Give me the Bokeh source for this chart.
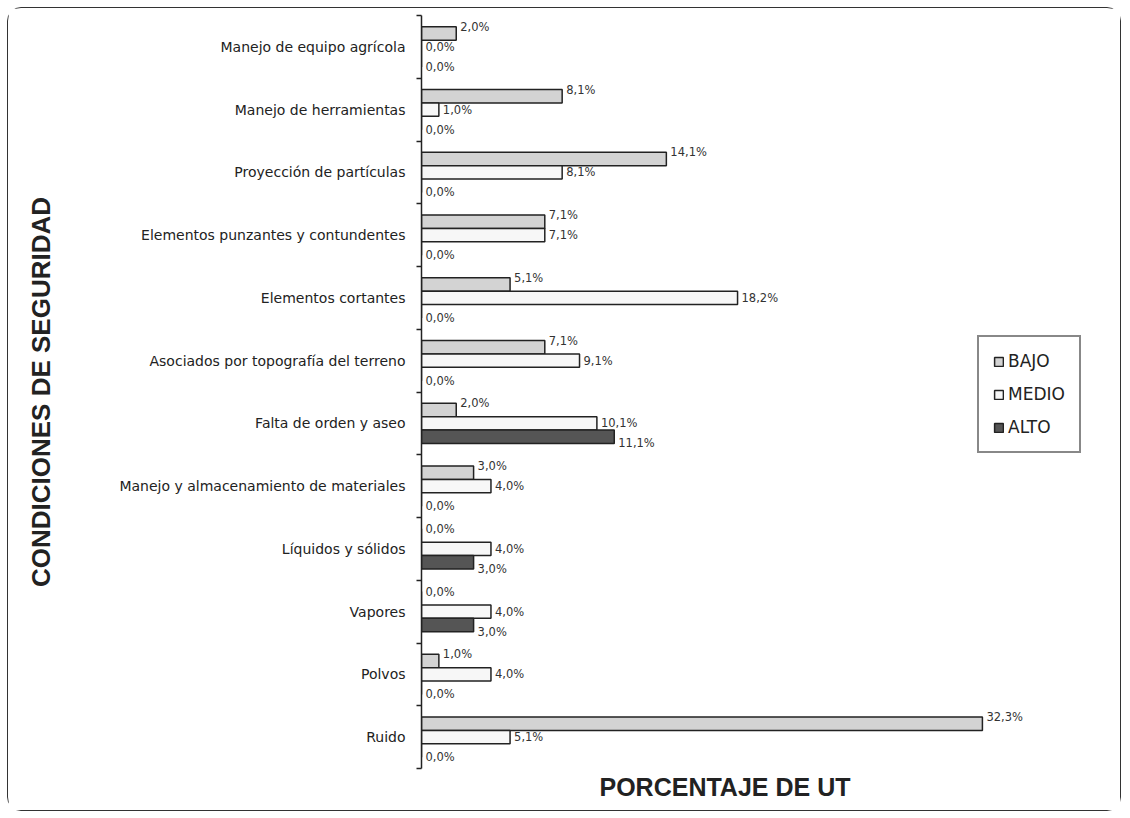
from bokeh.plotting import figure
from bokeh.models import ColumnDataSource, Range1d, FixedTicker, Legend, LegendItem, Title
from bokeh.embed import file_html
from bokeh.resources import INLINE

categories = [
    "Manejo de equipo agrícola",
    "Manejo de herramientas",
    "Proyección de partículas",
    "Elementos punzantes y contundentes",
    "Elementos cortantes",
    "Asociados por topografía del terreno",
    "Falta de orden y aseo",
    "Manejo y almacenamiento de materiales",
    "Líquidos y sólidos",
    "Vapores",
    "Polvos",
    "Ruido",
]
bajo = [2.0, 8.1, 14.1, 7.1, 5.1, 7.1, 2.0, 3.0, 0.0, 0.0, 1.0, 32.3]
medio = [0.0, 1.0, 8.1, 7.1, 18.2, 9.1, 10.1, 4.0, 4.0, 4.0, 4.0, 5.1]
alto = [0.0, 0.0, 0.0, 0.0, 0.0, 0.0, 11.1, 0.0, 3.0, 3.0, 0.0, 0.0]
series_names = ["BAJO", "MEDIO", "ALTO"]
series_values = [bajo, medio, alto]
series_colors = ["#d3d3d3", "#f7f7f7", "#555555"]

n = len(categories)
BAR_H = 0.215
LABEL_OFF = [-0.32, 0.0, 0.32]

p = figure(
    width=1114, height=804,
    x_range=Range1d(0, 39.1), y_range=Range1d(n, 0),
    x_axis_location=None,
    output_backend="svg", toolbar_location=None,
    min_border_left=413, min_border_right=22, min_border_top=7, min_border_bottom=44,
)
p.styles = {"border": "1.5px solid #333333", "border-radius": "14px",
            "margin-left": "7px", "margin-top": "7px"}
p.outline_line_color = None
p.xgrid.visible = False
p.ygrid.visible = False

legend_items = []
for k, (name, vals, col) in enumerate(zip(series_names, series_values, series_colors)):
    off = (k - 1) * BAR_H
    ys = [i + 0.5 + off for i in range(n)]
    src = ColumnDataSource(dict(y=ys, right=vals))
    r = p.hbar(y="y", left=0, right="right", height=BAR_H, source=src,
               fill_color=col, line_color="#222222", line_width=1.5)
    legend_items.append(LegendItem(label=name, renderers=[r]))
    ly = [i + 0.5 + LABEL_OFF[k] for i in range(n)]
    txt = [f"{v:.1f}%".replace(".", ",") for v in vals]
    lsrc = ColumnDataSource(dict(x=vals, y=ly, t=txt))
    p.text(x="x", y="y", text="t", source=lsrc, x_offset=4,
           text_font_size="11.5px", text_color="#333333",
           text_baseline="middle", text_align="left",
           text_font={"value": "DejaVu Sans"})

# y axis: labels at category centres, ticks at boundaries
centers = [i + 0.5 for i in range(n)]
bounds = [float(i) for i in range(n + 1)]
p.yaxis.ticker = FixedTicker(ticks=centers, minor_ticks=bounds)
p.yaxis.major_label_overrides = {c: lab for c, lab in zip(centers, categories)}
p.yaxis.major_tick_out = 0
p.yaxis.major_tick_in = 0
p.yaxis.minor_tick_out = 5
p.yaxis.minor_tick_in = 0
p.yaxis.minor_tick_line_color = "#222222"
p.yaxis.minor_tick_line_width = 1.5
p.yaxis.axis_line_color = "#222222"
p.yaxis.axis_line_width = 1.5
p.yaxis.major_label_standoff = 11
p.yaxis.major_label_text_font = "DejaVu Sans"
p.yaxis.major_label_text_font_size = "14px"
p.yaxis.major_label_text_color = "#222222"
p.yaxis.axis_label = "CONDICIONES DE SEGURIDAD"
p.yaxis.axis_label_text_font = "Liberation Sans"
p.yaxis.axis_label_text_font_size = "26px"
p.yaxis.axis_label_text_font_style = "bold"
p.yaxis.axis_label_text_color = "#222222"
p.yaxis.axis_label_standoff = 60

xtitle = Title(text="PORCENTAJE DE UT", align="left", offset=178,
               text_font="Liberation Sans", text_font_size="25px",
               text_font_style="bold", text_color="#222222", standoff=4)
p.add_layout(xtitle, "below")

legend = Legend(items=legend_items, location=(556, 315))
legend.border_line_color = "#111111"
legend.border_line_width = 2
legend.background_fill_color = "white"
legend.label_text_font = "DejaVu Sans"
legend.label_text_font_size = "17px"
legend.label_text_color = "#222222"
legend.glyph_width = 11
legend.glyph_height = 11
legend.label_standoff = 4
legend.spacing = 13
legend.padding = 14
legend.margin = 0
p.add_layout(legend, "center")

open("out.html", "w").write(file_html(p, INLINE))
